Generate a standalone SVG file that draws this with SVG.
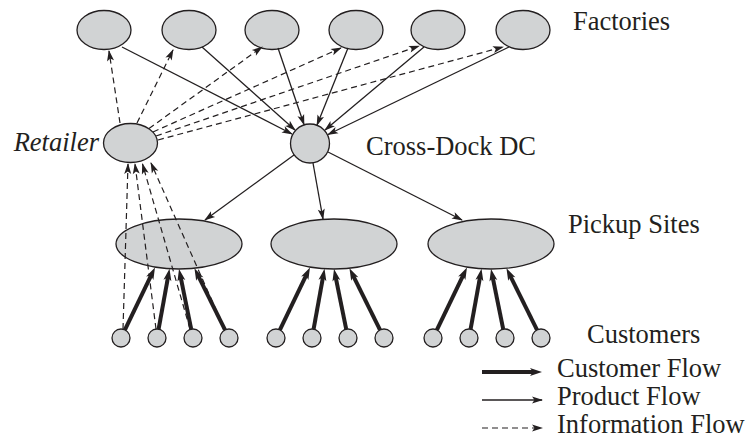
<svg xmlns="http://www.w3.org/2000/svg" width="746" height="439" viewBox="0 0 746 439">
<style>
.node{fill:#d1d3d4;stroke:#231f20;stroke-width:1.3}
.lbl{font-family:"Liberation Serif","Times New Roman",serif;font-size:26.5px;fill:#231f20}
.thick{stroke:#231f20;stroke-width:4;fill:none;marker-end:url(#ahBig)}
.prod{stroke:#231f20;stroke-width:1.3;fill:none;marker-end:url(#ah)}
.info{stroke:#231f20;stroke-width:1.2;fill:none;stroke-dasharray:6 4;marker-end:url(#ah)}
</style>
<defs>
<marker id="ah" markerUnits="userSpaceOnUse" markerWidth="13" markerHeight="8" refX="10" refY="3.5" orient="auto" overflow="visible">
<path d="M0,0 L11,3.5 L0,7 L2.5,3.5 Z" fill="#231f20"/>
</marker>
<marker id="ahBig" markerUnits="userSpaceOnUse" markerWidth="14" markerHeight="9" refX="4" refY="4" orient="auto" overflow="visible">
<path d="M0,0 L12,4 L0,8 L3,4 Z" fill="#231f20"/>
</marker>
</defs>
<g id="nodes">
<g id="factory1"><ellipse class="node" cx="104" cy="30" rx="27" ry="19.5"/></g>
<g id="factory2"><ellipse class="node" cx="189" cy="30" rx="27" ry="19.5"/></g>
<g id="factory3"><ellipse class="node" cx="272" cy="30" rx="27" ry="19.5"/></g>
<g id="factory4"><ellipse class="node" cx="356" cy="30" rx="27" ry="19.5"/></g>
<g id="factory5"><ellipse class="node" cx="438" cy="30" rx="27" ry="19.5"/></g>
<g id="factory6"><ellipse class="node" cx="523" cy="30" rx="27" ry="19.5"/></g>
<g id="retailer"><ellipse class="node" cx="130.5" cy="143" rx="27" ry="19.5"/></g>
<g id="crossdock"><circle class="node" cx="310" cy="143.5" r="19.5"/></g>
<g id="pickup1"><ellipse class="node" cx="179" cy="244" rx="63" ry="25"/></g>
<g id="pickup2"><ellipse class="node" cx="334" cy="244" rx="63" ry="25"/></g>
<g id="pickup3"><ellipse class="node" cx="491" cy="244" rx="63" ry="25"/></g>
<g id="customers1">
<circle class="node" cx="121" cy="338" r="9"/><circle class="node" cx="157" cy="338" r="9"/><circle class="node" cx="193" cy="338" r="9"/><circle class="node" cx="229" cy="338" r="9"/>
</g>
<g id="customers2" transform="translate(155,0)">
<circle class="node" cx="121" cy="338" r="9"/><circle class="node" cx="157" cy="338" r="9"/><circle class="node" cx="193" cy="338" r="9"/><circle class="node" cx="229" cy="338" r="9"/>
</g>
<g id="customers3" transform="translate(312,0)">
<circle class="node" cx="121" cy="338" r="9"/><circle class="node" cx="157" cy="338" r="9"/><circle class="node" cx="193" cy="338" r="9"/><circle class="node" cx="229" cy="338" r="9"/>
</g>
</g>
<g id="connectors">
<g id="product-flow">
<line class="prod" x1="122" y1="47" x2="292" y2="134"/>
<line class="prod" x1="202" y1="47" x2="295" y2="130"/>
<line class="prod" x1="278" y1="48" x2="304" y2="124.5"/>
<line class="prod" x1="348" y1="48" x2="317" y2="125"/>
<line class="prod" x1="424" y1="47" x2="325" y2="130"/>
<line class="prod" x1="509" y1="47" x2="328" y2="134.5"/>
<line class="prod" x1="294" y1="155" x2="205" y2="220"/>
<line class="prod" x1="313" y1="163" x2="323" y2="219"/>
<line class="prod" x1="328" y1="152" x2="462" y2="220"/>
</g>
<g id="info-flow">
<line class="info" x1="120" y1="123" x2="109" y2="51"/>
<line class="info" x1="137" y1="123" x2="173" y2="50"/>
<line class="info" x1="149" y1="128.5" x2="262" y2="47"/>
<line class="info" x1="153" y1="132" x2="341" y2="48"/>
<line class="info" x1="156" y1="136" x2="419" y2="46"/>
<line class="info" x1="158" y1="140" x2="503" y2="47"/>
<line class="info" x1="123" y1="329" x2="128" y2="164"/>
<line class="info" x1="156" y1="329" x2="135" y2="164"/>
<line class="info" x1="190" y1="329" x2="142.5" y2="164"/>
<line class="info" x1="225" y1="330" x2="151" y2="163"/>
</g>
<g id="customer-flow">
<g id="cf1">
<line class="thick" x1="124.9" y1="329.9" x2="151.5" y2="274.7"/>
<line class="thick" x1="158.6" y1="329.1" x2="168.1" y2="276.6"/>
<line class="thick" x1="191.2" y1="329.2" x2="180.6" y2="276.8"/>
<line class="thick" x1="225" y1="329.9" x2="198" y2="275.4"/>
</g>
<g id="cf2" transform="translate(155,0)">
<line class="thick" x1="124.9" y1="329.9" x2="151.5" y2="274.7"/>
<line class="thick" x1="158.6" y1="329.1" x2="168.1" y2="276.6"/>
<line class="thick" x1="191.2" y1="329.2" x2="180.6" y2="276.8"/>
<line class="thick" x1="225" y1="329.9" x2="198" y2="275.4"/>
</g>
<g id="cf3" transform="translate(312,0)">
<line class="thick" x1="124.9" y1="329.9" x2="151.5" y2="274.7"/>
<line class="thick" x1="158.6" y1="329.1" x2="168.1" y2="276.6"/>
<line class="thick" x1="191.2" y1="329.2" x2="180.6" y2="276.8"/>
<line class="thick" x1="225" y1="329.9" x2="198" y2="275.4"/>
</g>
</g>
</g>
<g id="labels">
<text class="lbl" x="573" y="30">Factories</text>
<text class="lbl" x="366" y="155">Cross-Dock DC</text>
<text class="lbl" x="99" y="151" text-anchor="end" font-style="italic">Retailer</text>
<text class="lbl" x="568" y="233">Pickup Sites</text>
<text class="lbl" x="587" y="343">Customers</text>
</g>
<g id="legend">
<line class="thick" x1="482" y1="372" x2="534" y2="372"/>
<line class="prod" x1="482" y1="400" x2="542" y2="400"/>
<line class="info" x1="482" y1="428" x2="542" y2="428" stroke-dasharray="5 4"/>
<text class="lbl" x="557" y="377">Customer Flow</text>
<text class="lbl" x="557" y="405">Product Flow</text>
<text class="lbl" x="557" y="433">Information Flow</text>
</g>
</svg>
